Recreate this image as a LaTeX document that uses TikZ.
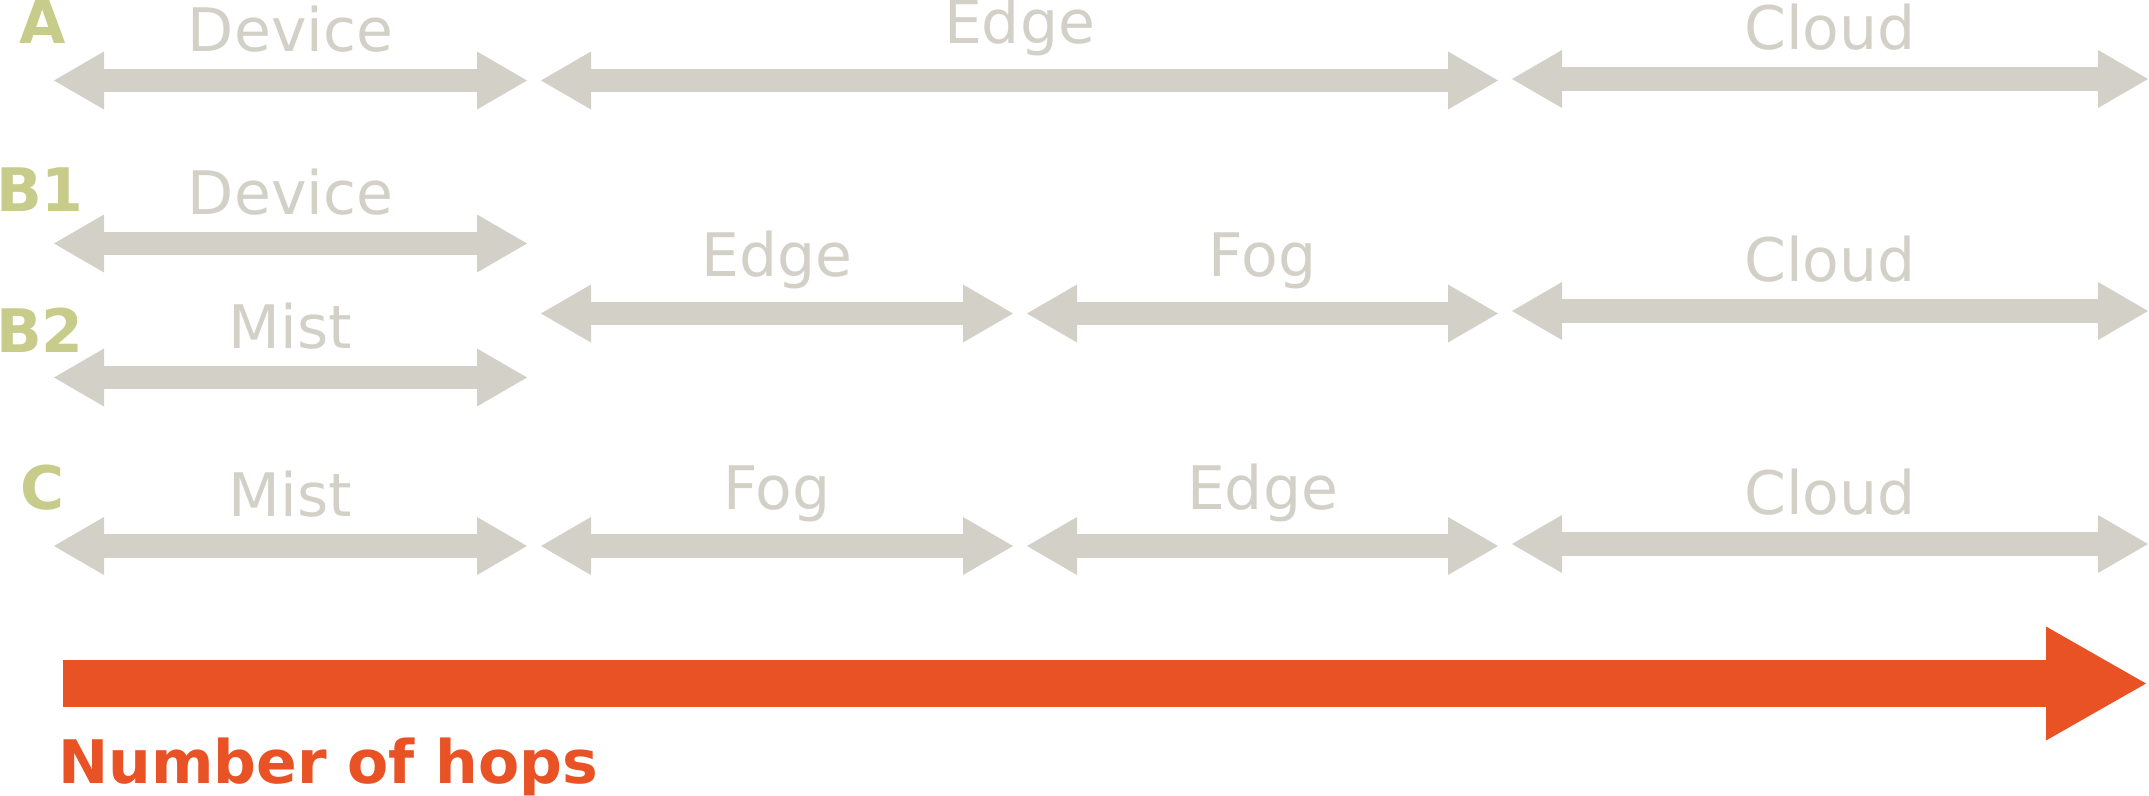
\documentclass[tikz,border=0pt]{standalone}
\usepackage{fontspec}
\setmainfont{DejaVu Sans}
\usetikzlibrary{arrows.meta, positioning}

\definecolor{hopgray}{RGB}{211,208,200}
\definecolor{rowgreen}{RGB}{200,204,138}
\definecolor{hoporange}{RGB}{232,82,36}

\begin{document}
\begin{tikzpicture}[x=1pt, y=-1pt,
    hop/.style={hopgray, line width=23.5pt,
      {Triangle[length=50pt, width=58pt, line width=0pt]}-{Triangle[length=50pt, width=58pt, line width=0pt]}},
    tier/.style={hopgray, inner sep=0pt, anchor=base, yshift=29.5pt,
      font=\fontsize{60}{72}\selectfont},
    tier low/.style={tier, yshift=7.5pt},
    row/.style={rowgreen, inner sep=0pt, anchor=base,
      font=\fontsize{60}{72}\selectfont\bfseries},
    hops/.style={hoporange, line width=47pt,
      -{Triangle[length=100pt, width=114pt, line width=0pt]}}]

  \useasboundingbox (0,0) rectangle (2149,795);

  % Etiquetas de las filas.
  \node[row] (rowA)  at (43,43)  {A};
  \node[row] (rowB1) at (40,211) {B1};
  \node[row] (rowB2) at (40,352) {B2};
  \node[row] (rowC)  at (43,509) {C};

  % Extremos de las flechas.
  \coordinate (a1w) at (54,80.5);   \coordinate (a1e) at (527,80.5);
  \coordinate (a2w) at (541,80.5);  \coordinate (a2e) at (1498,80.5);
  \coordinate (a3w) at (1512,79);   \coordinate (a3e) at (2148,79);

  \coordinate (b1w) at (54,243.5);  \coordinate (b1e) at (527,243.5);
  \coordinate (b2w) at (541,313.5); \coordinate (b2e) at (1013,313.5);
  \coordinate (b3w) at (1027,313.5);\coordinate (b3e) at (1498,313.5);
  \coordinate (b4w) at (1512,311);  \coordinate (b4e) at (2148,311);
  \coordinate (b5w) at (54,377.5);  \coordinate (b5e) at (527,377.5);

  \coordinate (c1w) at (54,546);    \coordinate (c1e) at (527,546);
  \coordinate (c2w) at (541,546);   \coordinate (c2e) at (1013,546);
  \coordinate (c3w) at (1027,546);  \coordinate (c3e) at (1498,546);
  \coordinate (c4w) at (1512,544);  \coordinate (c4e) at (2148,544);

  \coordinate (hw) at (63,683.5);   \coordinate (he) at (2146,683.5);

  % Fila A.
  \draw[hop] (a1w) -- node[tier] (devA) {Device} (a1e);
  \draw[hop] (a2w) -- node[tier low] (edgA) {Edge} (a2e);
  \draw[hop] (a3w) -- node[tier] (cldA) {Cloud} (a3e);

  % Filas B1 y B2.
  \draw[hop] (b1w) -- node[tier] (devB) {Device} (b1e);
  \draw[hop] (b2w) -- node[tier low] (edgB) {Edge} (b2e);
  \draw[hop] (b3w) -- node[tier low] (fogB) {Fog} (b3e);
  \draw[hop] (b4w) -- node[tier] (cldB) {Cloud} (b4e);
  \draw[hop] (b5w) -- node[tier] (misB) {Mist} (b5e);

  % Fila C.
  \draw[hop] (c1w) -- node[tier] (misC) {Mist} (c1e);
  \draw[hop] (c2w) -- node[tier low] (fogC) {Fog} (c2e);
  \draw[hop] (c3w) -- node[tier low] (edgC) {Edge} (c3e);
  \draw[hop] (c4w) -- node[tier] (cldC) {Cloud} (c4e);

  % Numero de saltos.
  \draw[hops] (hw) -- (he);
  \node[hoporange, inner sep=0pt, anchor=base west,
    font=\fontsize{60}{72}\selectfont\bfseries] (nhops) at (58,783) {Number of hops};

\end{tikzpicture}
\end{document}
